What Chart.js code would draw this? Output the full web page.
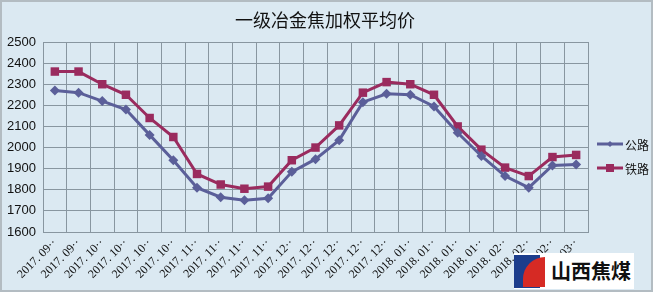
<!DOCTYPE html>
<html>
<head>
<meta charset="utf-8">
<script src="https://cdn.jsdelivr.net/npm/chart.js@4.4.0/dist/chart.umd.min.js"></script>
<style>
  html, body { margin: 0; padding: 0; background: #dbe9f2; }
  #wrap { position: relative; width: 653px; height: 292px; box-sizing: border-box; border: 2px solid #b3bcc2; }
  #cv { position: absolute; left: -2px; top: -2px; }
  #logo { position: absolute; left: 512px; top: 251px; width: 120px; height: 36px; background: #fff; }
  #logo .blk { position: absolute; left: 0; top: 2px; width: 26px; height: 33px; background: #1c3d8c; }
  #logo .fan { position: absolute; left: 9px; top: 4px; width: 22px; height: 30px; background: #d62a24; border-radius: 22px 0 0 0; }
  #logo .txt { position: absolute; left: 37px; top: 4px; font: bold 20px "Noto Sans CJK SC", sans-serif; color: #111; line-height: 28px; }
</style>
</head>
<body>
<div id="wrap">
  <canvas id="cv" width="653" height="292"></canvas>
  <div id="logo"><div class="blk"></div><div class="fan"></div><div class="txt">山西焦煤</div></div>
</div>
<script>
const TITLE = '一级冶金焦加权平均价';
const labels = [
  '2017. 09··', '2017. 09··', '2017. 10··', '2017. 10··', '2017. 10··', '2017. 10··',
  '2017. 11··', '2017. 11··', '2017. 11··', '2017. 11··',
  '2017. 12··', '2017. 12··', '2017. 12··', '2017. 12··', '2017. 12··',
  '2018. 01··', '2018. 01··', '2018. 01··', '2018. 01··',
  '2018. 02··', '2018. 02··', '2018. 02··', '2018. 03··'
];
const gonglu = [2270, 2260, 2220, 2180, 2060, 1940, 1810, 1765, 1750, 1760, 1885, 1945, 2035, 2215, 2255, 2250, 2195, 2070, 1960, 1865, 1810, 1915, 1920];
const tielu  = [2360, 2360, 2300, 2250, 2140, 2050, 1875, 1825, 1805, 1815, 1940, 2000, 2105, 2260, 2310, 2300, 2250, 2100, 1990, 1905, 1865, 1955, 1965];

const BLUE = '#5b5f99';
const RED = '#9a2b5e';
const GRID = '#8896a0';

// title + legend drawn by hand
const extras = {
  id: 'extras',
  afterDraw(chart) {
    const c = chart.ctx;
    c.save();
    c.fillStyle = '#111';
    c.font = '18px "Noto Sans CJK SC", sans-serif';
    c.textAlign = 'center';
    c.textBaseline = 'middle';
    c.fillText(TITLE, 325, 20);

    const items = [
      { t: '公路', col: BLUE, y: 144, sq: false },
      { t: '铁路', col: RED, y: 168, sq: true }
    ];
    c.font = '12px "Noto Sans CJK SC", sans-serif';
    c.textAlign = 'left';
    for (const it of items) {
      c.strokeStyle = it.col;
      c.lineWidth = 3;
      c.beginPath();
      c.moveTo(597, it.y);
      c.lineTo(623, it.y);
      c.stroke();
      c.fillStyle = it.col;
      if (it.sq) c.fillRect(606, it.y - 4, 8, 8);
      else {
        c.beginPath();
        c.moveTo(610, it.y - 3); c.lineTo(613, it.y); c.lineTo(610, it.y + 3); c.lineTo(607, it.y);
        c.closePath(); c.fill();
      }
      c.fillStyle = '#111';
      c.fillText(it.t, 625, it.y + 1);
    }
    c.restore();
  }
};

new Chart(document.getElementById('cv'), {
  type: 'line',
  data: {
    labels: labels,
    datasets: [
      {
        label: '公路',
        data: gonglu,
        borderColor: BLUE,
        backgroundColor: BLUE,
        borderWidth: 3,
        pointStyle: 'rectRot',
        pointRadius: 5,
        pointBorderWidth: 0,
        tension: 0
      },
      {
        label: '铁路',
        data: tielu,
        borderColor: RED,
        backgroundColor: RED,
        borderWidth: 3,
        pointStyle: 'rect',
        pointRadius: 6,
        pointBorderWidth: 0,
        tension: 0
      }
    ]
  },
  options: {
    responsive: false,
    animation: false,
    layout: { padding: { top: 42, right: 65, left: 0, bottom: 0 } },
    plugins: { legend: { display: false }, tooltip: { enabled: false }, title: { display: false } },
    scales: {
      x: {
        offset: true,
        grid: { offset: true, color: GRID, lineWidth: 1, drawTicks: false },
        border: { color: GRID },
        ticks: {
          color: '#111',
          font: { size: 12, family: '"Liberation Serif", serif' },
          maxRotation: 45,
          minRotation: 45,
          autoSkip: false,
          padding: 4
        },
        afterFit: (s) => { s.height = 60; }
      },
      y: {
        min: 1600,
        max: 2500,
        grid: { color: GRID, lineWidth: 1, drawTicks: false },
        border: { color: GRID },
        ticks: {
          stepSize: 100,
          color: '#111',
          font: { size: 13, family: '"Liberation Sans", sans-serif' },
          padding: 7,
          callback: (v) => String(v)
        },
        afterFit: (s) => { s.width = 43; }
      }
    }
  },
  plugins: [extras]
});
</script>
</body>
</html>
